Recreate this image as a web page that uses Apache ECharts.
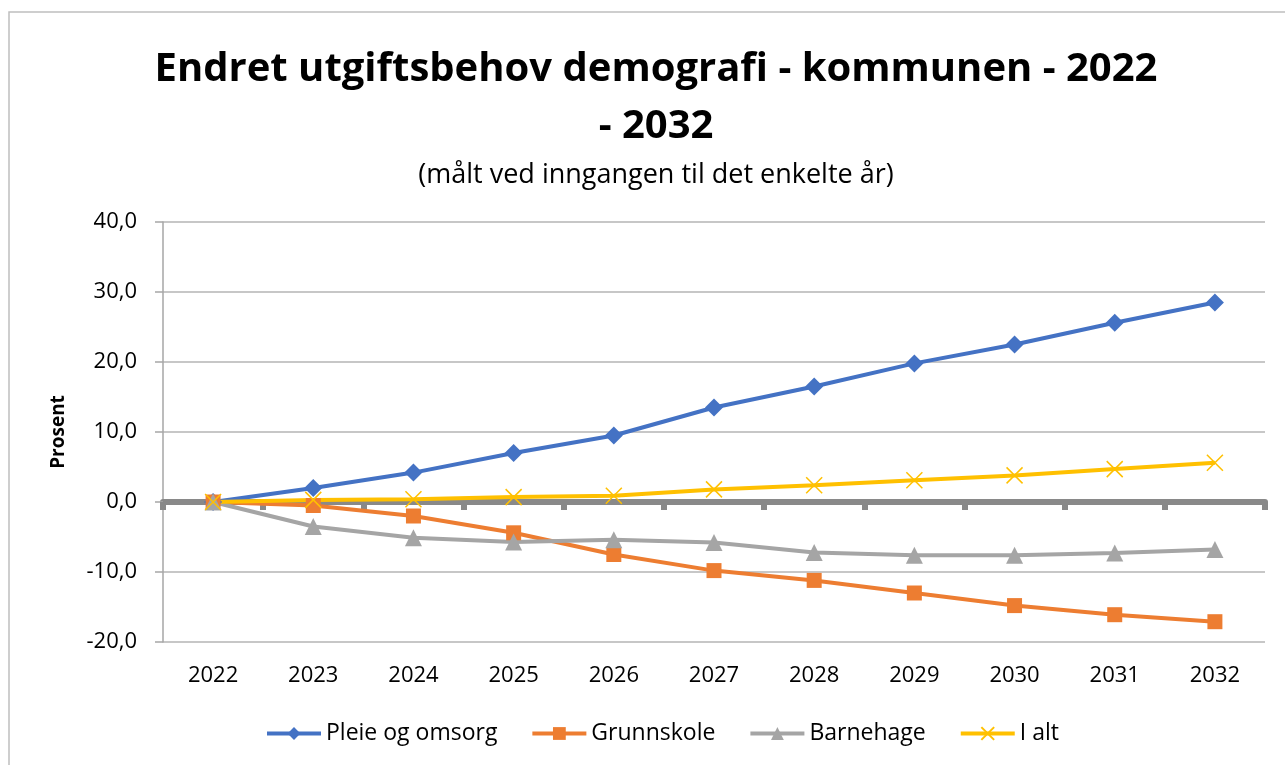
<!DOCTYPE html>
<html>
<head>
<meta charset="utf-8">
<script src="https://cdn.jsdelivr.net/npm/echarts@6/dist/echarts.min.js"></script>
<style>
  html, body { margin: 0; padding: 0; background: #fff; }
  #main { width: 1285px; height: 765px; }
</style>
</head>
<body>
<div id="main"></div>
<script>
// år (kategorier)
const years = ["2022", "2023", "2024", "2025", "2026", "2027", "2028", "2029", "2030", "2031", "2032"];
// endring i prosent per tjeneste
const pleieOgOmsorg = [0, 2.0, 4.2, 7.0, 9.5, 13.5, 16.5, 19.8, 22.5, 25.6, 28.5];
const grunnskole = [0, -0.5, -2.0, -4.4, -7.5, -9.8, -11.2, -13.0, -14.8, -16.1, -17.1];
const barnehage = [0, -3.5, -5.1, -5.7, -5.4, -5.8, -7.2, -7.6, -7.6, -7.3, -6.8];
const iAlt = [0, 0.3, 0.4, 0.7, 0.9, 1.8, 2.4, 3.1, 3.8, 4.7, 5.6];

const font = "Open Sans";
const crossPath = "path://M0,0L10,10M10,0L0,10";

let myChart = echarts.init(document.getElementById("main"));
myChart.setOption({
  animation: false,
  textStyle: { fontFamily: font },
  graphic: [
    {
      type: "rect",
      shape: { x: 9, y: 12, width: 1400, height: 900 },
      style: { fill: "none", stroke: "#bfbfbf", lineWidth: 1.5 },
      silent: true,
    },
  ],
  title: [
    {
      text: "Endret utgiftsbehov demografi - kommunen - 2022\n- 2032",
      left: 651,
      top: 36,
      textAlign: "center",
      textStyle: {
        fontFamily: font,
        fontSize: 40,
        fontWeight: "bold",
        lineHeight: 57,
        color: "#000",
      },
    },
    {
      text: "(målt ved inngangen til det enkelte år)",
      left: 651,
      top: 153,
      textAlign: "center",
      textStyle: {
        fontFamily: font,
        fontSize: 27,
        fontWeight: "normal",
        lineHeight: 34,
        color: "#000",
      },
    },
  ],
  grid: {
    left: 163,
    right: 20,
    top: 222,
    bottom: 123,
  },
  legend: {
    bottom: 15,
    left: 260,
    itemWidth: 54,
    itemHeight: 16,
    itemGap: 33,
    lineStyle: { width: 4 },
    textStyle: { fontFamily: font, fontSize: 23, color: "#000" },
    data: ["Pleie og omsorg", "Grunnskole", "Barnehage", "I alt"],
  },
  xAxis: [
    {
      type: "category",
      data: years,
      boundaryGap: true,
      axisLine: { show: false, onZero: false },
      axisTick: { show: false },
      axisLabel: { fontFamily: font, fontSize: 22, color: "#000", margin: 23 },
    },
    {
      type: "category",
      data: years,
      boundaryGap: true,
      axisLine: {
        onZero: true,
        onZeroAxisIndex: 0,
        lineStyle: { color: "#898989", width: 6 },
      },
      axisTick: { show: true, inside: true, length: 8, lineStyle: { color: "#898989", width: 6 } },
      axisLabel: { show: false },
      splitLine: { show: false },
    },
  ],
  yAxis: {
    type: "value",
    min: -20,
    max: 40,
    interval: 10,
    name: "Prosent",
    nameLocation: "middle",
    nameGap: 95,
    nameTextStyle: { fontFamily: font, fontSize: 19, fontWeight: "bold", color: "#000" },
    axisLine: { show: true, lineStyle: { color: "#a6a6a6", width: 1.5 } },
    axisTick: { show: true, length: 8, lineStyle: { color: "#a6a6a6", width: 1.5 } },
    axisLabel: {
      fontFamily: font,
      fontSize: 22,
      color: "#000",
      margin: 26,
      formatter: (v) => v.toFixed(1).replace(".", ","),
    },
    splitLine: { lineStyle: { color: "#b4b4b4", width: 1.5 } },
  },
  series: [
    {
      name: "Pleie og omsorg",
      type: "line",
      data: pleieOgOmsorg,
      symbol: "diamond",
      symbolSize: 18,
      lineStyle: { color: "#4472C4", width: 4 },
      itemStyle: { color: "#4472C4" },
    },
    {
      name: "Grunnskole",
      type: "line",
      data: grunnskole,
      symbol: "rect",
      symbolSize: 15,
      lineStyle: { color: "#ED7D31", width: 4 },
      itemStyle: { color: "#ED7D31" },
    },
    {
      name: "Barnehage",
      type: "line",
      data: barnehage,
      symbol: "triangle",
      symbolSize: 17,
      lineStyle: { color: "#A5A5A5", width: 4 },
      itemStyle: { color: "#A5A5A5" },
    },
    {
      name: "I alt",
      type: "line",
      data: iAlt,
      symbol: crossPath,
      symbolSize: 16,
      lineStyle: { color: "#FFC000", width: 4 },
      itemStyle: { color: "#FFC000", borderColor: "#FFC000", borderWidth: 1.5 },
    },
  ],
});
</script>
</body>
</html>
